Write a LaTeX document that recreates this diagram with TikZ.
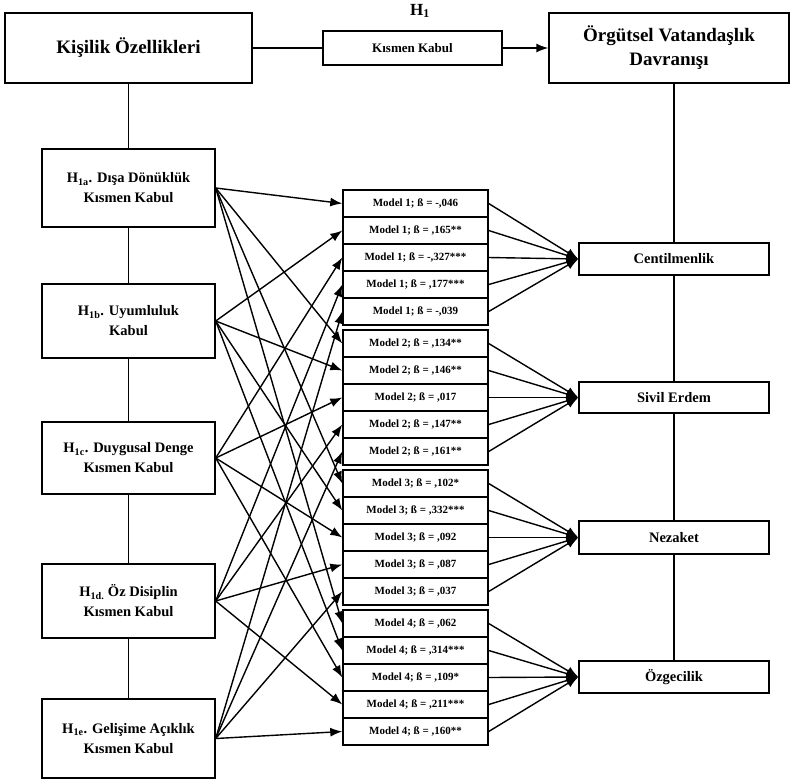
\documentclass[tikz,border=0pt]{standalone}
\usepackage{fontspec}
\setmainfont{Liberation Serif}
\usetikzlibrary{arrows.meta}
\begin{document}
\begin{tikzpicture}[x=1pt,y=-1pt,
  box/.style={draw, line width=1.4pt, inner sep=0pt, align=center, font=\bfseries},
  title/.style={box, font=\bfseries\fontsize{19}{24}\selectfont},
  lbox/.style={box, minimum width=173pt, font=\bfseries\fontsize{14.5}{20}\selectfont},
  rbox/.style={box, minimum width=190pt, font=\bfseries\fontsize{14.5}{17}\selectfont},
  mbox/.style={box, minimum width=145pt, minimum height=27pt, font=\bfseries\fontsize{11}{13}\selectfont},
  conn/.style={line width=1.4pt},
  arr/.style={line width=1.4pt, -{Latex[length=12pt,width=9pt]}}
]
\useasboundingbox (0,0) rectangle (790,780);

% top row
\node[title, minimum width=247pt, minimum height=70pt] (K) at (128.5,48) {Kişilik Özellikleri};
\node[title, minimum width=240pt, minimum height=70pt] (O) at (669,48) {Örgütsel Vatandaşlık\\Davranışı};
\node[box, minimum width=179pt, minimum height=34pt, font=\bfseries\fontsize{13}{15}\selectfont] (KK) at (412.5,48) {Kısmen Kabul};
\node[font=\bfseries\fontsize{17}{19}\selectfont, inner sep=0pt] (H1) at (420,11) {H\textsubscript{1}};

% left boxes
\node[lbox, minimum height=78pt] (L1) at (128.5,188) {H\textsubscript{1a}. Dışa Dönüklük\\Kısmen Kabul};
\node[lbox, minimum height=74pt] (L2) at (128.5,321) {H\textsubscript{1b}. Uyumluluk\\Kabul};
\node[lbox, minimum height=72pt] (L3) at (128.5,458) {H\textsubscript{1c}. Duygusal Denge\\Kısmen Kabul};
\node[lbox, minimum height=74pt] (L4) at (128.5,601) {H\textsubscript{1d.} Öz Disiplin\\Kısmen Kabul};
\node[lbox, minimum height=79pt] (L5) at (128.5,738.5) {H\textsubscript{1e}. Gelişime Açıklık\\Kısmen Kabul};

% right boxes
\node[rbox, minimum height=32pt] (R1) at (674,259) {Centilmenlik};
\node[rbox, minimum height=31pt] (R2) at (674,397.5) {Sivil Erdem};
\node[rbox, minimum height=33pt] (R3) at (674,537.5) {Nezaket};
\node[rbox, minimum height=32pt] (R4) at (674,677) {Özgecilik};

% model rows
\newcommand{\mrow}[4]{\node[mbox] (m-#1-#2) at (415.5,{190+140*(#1-1)+13.5+27*(#2-1)}) {Model #3; ß = #4};}
\mrow{1}{1}{1}{-,046}
\mrow{1}{2}{1}{,165**}
\mrow{1}{3}{1}{-,327***}
\mrow{1}{4}{1}{,177***}
\mrow{1}{5}{1}{-,039}
\mrow{2}{1}{2}{,134**}
\mrow{2}{2}{2}{,146**}
\mrow{2}{3}{2}{,017}
\mrow{2}{4}{2}{,147**}
\mrow{2}{5}{2}{,161**}
\mrow{3}{1}{3}{,102*}
\mrow{3}{2}{3}{,332***}
\mrow{3}{3}{3}{,092}
\mrow{3}{4}{3}{,087}
\mrow{3}{5}{3}{,037}
\mrow{4}{1}{4}{,062}
\mrow{4}{2}{4}{,314***}
\mrow{4}{3}{4}{,109*}
\mrow{4}{4}{4}{,211***}
\mrow{4}{5}{4}{,160**}

% connectors top
\draw[conn] (K.east) -- (KK.west);
\draw[arr] (KK.east) -- (O.west);
\draw[conn] (K.south) -- (L1.north);
\draw[conn] (L1.south) -- (L2.north);
\draw[conn] (L2.south) -- (L3.north);
\draw[conn] (L3.south) -- (L4.north);
\draw[conn] (L4.south) -- (L5.north);
\draw[conn] (O.south -| R1.north) -- (R1.north);
\draw[conn] (R1.south) -- (R2.north);
\draw[conn] (R2.south) -- (R3.north);
\draw[conn] (R3.south) -- (R4.north);

% left to models, models to right
\foreach \g in {1,2,3,4}{
  \foreach \i in {1,...,5}{
    \draw[arr] (L\i.east) -- (m-\g-\i.west);
    \draw[arr] (m-\g-\i.east) -- (R\g.west);
  }
}
\end{tikzpicture}
\end{document}
